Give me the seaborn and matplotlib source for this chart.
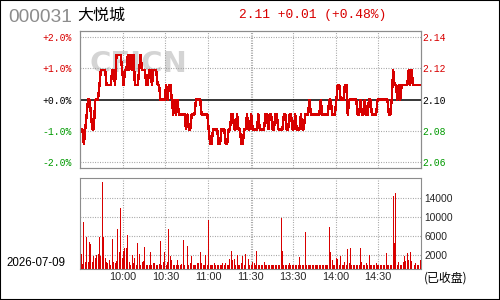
import numpy as np
import pandas as pd
import matplotlib
matplotlib.use("Agg")
import matplotlib.pyplot as plt
import seaborn as sns
from matplotlib.patches import Rectangle

# ---------------- data ----------------
CODE = "000031"
NAME = "大悦城"
QUOTE = "2.11 +0.01 (+0.48%)"
DATE = "2026-07-09"
STATUS = "(已收盘)"
WATERMARK = "CFICN"
PREV_CLOSE = 2.10

TIME_TICKS = [30, 60, 90, 120, 150, 180, 210]
TIME_LABELS = ["10:00", "10:30", "11:00", "11:30", "13:30", "14:00", "14:30"]
PCT_LEVELS = [-2, -1, 0, 1, 2]
PCT_LABELS = ["-2.0%", "-1.0%", "+0.0%", "+1.0%", "+2.0%"]
PRICE_LABELS = ["2.06", "2.08", "2.10", "2.12", "2.14"]
VOL_LABELS = ["2000", "6000", "10000", "14000"]

PRICE = [
    2.08, 2.08, 2.07, 2.08, 2.09, 2.10, 2.10, 2.09, 2.08, 2.08,
    2.10, 2.10, 2.10, 2.11, 2.12, 2.12, 2.12, 2.12, 2.11, 2.11,
    2.11, 2.11, 2.12, 2.12, 2.11, 2.13, 2.13, 2.13, 2.13, 2.12,
    2.11, 2.12, 2.12, 2.13, 2.12, 2.13, 2.12, 2.13, 2.11, 2.11,
    2.11, 2.12, 2.13, 2.12, 2.12, 2.12, 2.11, 2.11, 2.12, 2.12,
    2.11, 2.12, 2.12, 2.12, 2.11, 2.11, 2.10, 2.10, 2.10, 2.10,
    2.11, 2.10, 2.11, 2.11, 2.10, 2.09, 2.10, 2.09, 2.10, 2.09,
    2.09, 2.09, 2.09, 2.09, 2.08, 2.09, 2.08, 2.08, 2.09, 2.09,
    2.09, 2.10, 2.10, 2.10, 2.10, 2.09, 2.09, 2.09, 2.09, 2.09,
    2.08, 2.07, 2.07, 2.08, 2.08, 2.08, 2.08, 2.07, 2.07, 2.08,
    2.08, 2.08, 2.07, 2.07, 2.08, 2.08, 2.09, 2.09, 2.08, 2.08,
    2.09, 2.08, 2.08, 2.07, 2.07, 2.08, 2.08, 2.09, 2.08, 2.08,
    2.09, 2.08, 2.08, 2.08, 2.08, 2.09, 2.08, 2.08, 2.08, 2.08,
    2.09, 2.09, 2.08, 2.09, 2.09, 2.08, 2.08, 2.09, 2.09, 2.08,
    2.08, 2.08, 2.08, 2.09, 2.09, 2.08, 2.08, 2.09, 2.09, 2.08,
    2.08, 2.09, 2.08, 2.08, 2.08, 2.09, 2.08, 2.08, 2.09, 2.09,
    2.09, 2.10, 2.09, 2.09, 2.09, 2.09, 2.09, 2.09, 2.09, 2.10,
    2.09, 2.09, 2.09, 2.09, 2.09, 2.10, 2.10, 2.09, 2.09, 2.09,
    2.10, 2.11, 2.11, 2.10, 2.10, 2.10, 2.11, 2.11, 2.09, 2.10,
    2.10, 2.10, 2.10, 2.10, 2.10, 2.09, 2.09, 2.10, 2.09, 2.09,
    2.10, 2.09, 2.09, 2.10, 2.10, 2.09, 2.09, 2.09, 2.09, 2.10,
    2.10, 2.10, 2.10, 2.10, 2.10, 2.10, 2.10, 2.09, 2.09, 2.10,
    2.12, 2.11, 2.11, 2.10, 2.11, 2.10, 2.11, 2.11, 2.11, 2.11,
    2.11, 2.12, 2.11, 2.12, 2.11, 2.11, 2.11, 2.11, 2.11, 2.11,
]

VOLUME = [
    3200, 1200, 10000, 1500, 6900, 1500, 5800, 5300, 1500, 2700,
    2300, 3000, 3200, 6900, 2900, 18400, 6700, 2300, 1600, 1300,
    2000, 1000, 6400, 1500, 1300, 1800, 8500, 3600, 13000, 2300,
    3900, 4400, 4400, 7200, 1500, 1000, 3000, 1300, 2300, 1000,
    5500, 3200, 900, 1600, 1800, 4800, 900, 900, 900, 3600,
    1000, 1300, 1300, 1000, 1000, 1100, 6000, 1000, 1500, 3600,
    900, 1500, 8500, 2900, 2000, 900, 900, 900, 2000, 900,
    900, 1200, 6200, 1000, 3400, 4900, 1000, 1300, 2900, 1000,
    1000, 900, 1300, 1300, 3600, 1300, 900, 1000, 3000, 900,
    10400, 1000, 900, 1000, 1300, 900, 900, 900, 1000, 1000,
    1300, 900, 1300, 900, 1000, 2100, 3900, 1900, 2100, 900,
    3000, 900, 1000, 1300, 2900, 900, 3200, 1300, 2100, 1000,
    1000, 1500, 1300, 900, 3900, 1000, 1000, 900, 1000, 1500,
    900, 900, 900, 900, 900, 1000, 900, 1000, 900, 1000,
    1000, 10900, 3900, 900, 900, 900, 900, 1300, 900, 900,
    900, 900, 900, 900, 2500, 900, 1000, 900, 7800, 900,
    900, 900, 900, 900, 900, 900, 900, 900, 900, 900,
    900, 900, 900, 1000, 900, 8800, 3600, 2000, 900, 1000,
    2300, 2200, 900, 2800, 900, 900, 1500, 900, 4300, 1300,
    4400, 1000, 900, 1000, 900, 900, 900, 4400, 1500, 900,
    900, 1300, 900, 3000, 1000, 900, 900, 900, 1300, 900,
    900, 900, 900, 1000, 900, 3400, 900, 1000, 900, 900,
    15400, 5500, 16000, 1000, 1500, 900, 900, 1500, 2900, 1800,
    3500, 2000, 3700, 1800, 900, 900, 1300, 900, 900, 2000,
]

# ---------------- style ----------------
RED = "#d80000"
GREEN = "#009a00"
GRID = "#9a9a9a"
FRAME = "#8c8c8c"
MONO = ["Liberation Mono", "DejaVu Sans Mono"]
SANS = ["Liberation Sans", "DejaVu Sans"]
CJK = ["Noto Sans CJK SC", "DejaVu Sans"]
DOT = (0, (0.8, 1.4))
VOL_OFFSET = 950
VOL_TOP = 19150

sns.set_style("white")
plt.rcParams["font.family"] = SANS

df = pd.DataFrame({
    "minute": np.arange(len(PRICE)) + 0.5,
    "price": PRICE,
    "volume": VOLUME,
})

fig = plt.figure(figsize=(5, 3), dpi=100)
fig.patch.set_facecolor("white")
ax = fig.add_axes([0.1606, 0.439, 0.681, 0.4577])
axv = fig.add_axes([0.1606, 0.1023, 0.681, 0.3033])

# ---- price panel ----
lo = PREV_CLOSE * (1 - 0.022)
hi = PREV_CLOSE * (1 + 0.022)
sns.lineplot(data=df, x="minute", y="price", ax=ax, color=RED,
             linewidth=1.0, zorder=5, sort=False)
for ln in ax.lines:
    ln.set_antialiased(False)
ax.set_xlim(0, 240)
ax.set_ylim(lo, hi)
pct_pos = [PREV_CLOSE * (1 + p / 100) for p in PCT_LEVELS]
for p, y in zip(PCT_LEVELS, pct_pos):
    if p == 0:
        ax.axhline(y, color="black", linewidth=1.1, zorder=4)
    else:
        ax.axhline(y, color=GRID, linewidth=0.8, linestyle=DOT, zorder=1)
for t in TIME_TICKS:
    ax.axvline(t, color=GRID, linewidth=0.8, linestyle=DOT, zorder=1)
    axv.axvline(t, color=GRID, linewidth=0.8, linestyle=DOT, zorder=1)
ax.axvline(TIME_TICKS[3] + 1, color=GRID, linewidth=0.8, linestyle=DOT, zorder=1)
axv.axvline(TIME_TICKS[3] + 1, color=GRID, linewidth=0.8, linestyle=DOT, zorder=1)

ax.text(0.171, 0.76, WATERMARK, transform=ax.transAxes, ha="center", va="center",
        fontsize=21, fontweight="bold", color="#d4d4d4", family=["DejaVu Sans"], zorder=0.5)

ax.set_xticks([])
ax.set_xlabel("")
ax.set_ylabel("")
ax.set_yticks(pct_pos, PCT_LABELS)
ax.tick_params(axis="y", length=0, pad=6, labelsize=7)


def level_color(p):
    return RED if p > 0 else (GREEN if p < 0 else "black")


for lab, p in zip(ax.get_yticklabels(), PCT_LEVELS):
    lab.set_color(level_color(p))
    lab.set_family(MONO)

ax2 = ax.twinx()
ax2.set_ylim(lo, hi)
ax2.set_yticks(pct_pos, PRICE_LABELS)
ax2.tick_params(axis="y", length=0, pad=1, labelsize=7)
for lab, p in zip(ax2.get_yticklabels(), PCT_LEVELS):
    lab.set_color(level_color(p))
    lab.set_family(MONO)

for a in (ax, ax2, axv):
    for s in a.spines.values():
        s.set_color(FRAME)
        s.set_linewidth(0.8)
        s.set_visible(True)

# ---- volume panel ----
sns.barplot(data=df, x="minute", y="volume", ax=axv, native_scale=True,
            color=RED, saturation=1, width=0.7, linewidth=0, errorbar=None, zorder=3)
axv.set_xlim(0, 240)
axv.set_ylim(0, VOL_TOP)
vol_pos = [int(s) + VOL_OFFSET for s in VOL_LABELS]
for y in vol_pos:
    axv.axhline(y, color=GRID, linewidth=0.8, linestyle=DOT, zorder=1)
axv.yaxis.tick_right()
axv.set_yticks(vol_pos, VOL_LABELS)
axv.tick_params(axis="y", length=0, pad=2.7, labelsize=7.4)
axv.set_xticks(TIME_TICKS, TIME_LABELS)
axv.tick_params(axis="x", length=0, pad=2, labelsize=7.8)
axv.set_xlabel("")
axv.set_ylabel("")

# ---- header & footer texts ----
fig.text(0.016, 0.943, CODE, color="#8c8c8c", fontsize=13.8, family=SANS,
         ha="left", va="center")
fig.text(0.154, 0.948, NAME, color="black", fontsize=11.5, family=CJK,
         ha="left", va="center")
fig.text(0.478, 0.951, QUOTE, color=RED, fontsize=9.4, family=MONO,
         ha="left", va="center")
fig.text(0.0134, 0.1243, DATE, color="black", fontsize=8.3, family=SANS,
         ha="left", va="center")
fig.text(0.848, 0.0723, STATUS, color="black", fontsize=8.6, family=CJK,
         ha="left", va="center")

fig.add_artist(Rectangle((0, 0), 1, 1, transform=fig.transFigure, fill=False,
                         edgecolor="black", linewidth=1.5))

fig.savefig("out.png", dpi=100, facecolor="white")
